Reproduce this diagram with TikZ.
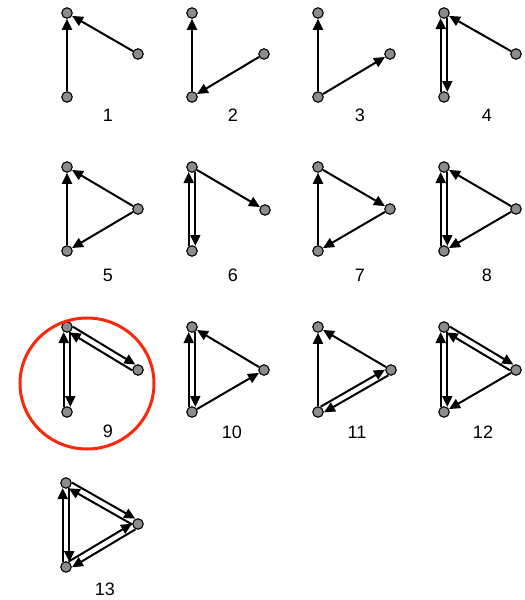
\documentclass[tikz,border=0pt]{standalone}
\usepackage{fontspec}
\setmainfont{Liberation Sans}
\usetikzlibrary{arrows.meta,calc}
\definecolor{vgray}{RGB}{140,140,140}
\definecolor{ring}{RGB}{250,40,10}
\tikzset{
  vtx/.style={circle,draw=black,fill=vgray,line width=1.1pt,minimum size=10.5pt,inner sep=0pt},
  edge/.style={line width=2pt,-{Triangle[length=11pt,width=10pt]}},
  dedge/.style={edge,shorten >=5pt,shorten <=5pt},
  lab/.style={font=\fontsize{18}{18}\selectfont,inner sep=0pt},
}
\newcommand\dbl[2]{%
  \draw[dedge] ($(#1)!3.3pt!90:(#2)$) -- ($(#2)!3.3pt!-90:(#1)$);
  \draw[dedge] ($(#2)!3.3pt!90:(#1)$) -- ($(#1)!3.3pt!-90:(#2)$);}
\begin{document}
\begin{tikzpicture}[x=1pt,y=-1pt]
\useasboundingbox (0,0) rectangle (525,600);
% row 1
\node[vtx] (t1) at (67,13) {}; \node[vtx] (b1) at (67,97) {}; \node[vtx] (r1) at (138,54) {};
\node[vtx] (t2) at (192,13) {}; \node[vtx] (b2) at (192,97) {}; \node[vtx] (r2) at (264,54) {};
\node[vtx] (t3) at (318,13) {}; \node[vtx] (b3) at (318,97) {}; \node[vtx] (r3) at (390,54) {};
\node[vtx] (t4) at (444,13) {}; \node[vtx] (b4) at (444,97) {}; \node[vtx] (r4) at (516,54) {};
% row 2
\node[vtx] (t5) at (67,167) {}; \node[vtx] (b5) at (67,251) {}; \node[vtx] (r5) at (138,209) {};
\node[vtx] (t6) at (192,167) {}; \node[vtx] (b6) at (192,251) {}; \node[vtx] (r6) at (265,210) {};
\node[vtx] (t7) at (318,167) {}; \node[vtx] (b7) at (318,251) {}; \node[vtx] (r7) at (390,209) {};
\node[vtx] (t8) at (444,167) {}; \node[vtx] (b8) at (444,251) {}; \node[vtx] (r8) at (516,209) {};
% row 3
\node[vtx] (t9) at (67,327) {}; \node[vtx] (b9) at (67,412) {}; \node[vtx] (r9) at (138,370) {};
\node[vtx] (t10) at (192,327) {}; \node[vtx] (b10) at (192,412) {}; \node[vtx] (r10) at (264,370) {};
\node[vtx] (t11) at (318,327) {}; \node[vtx] (b11) at (318,412) {}; \node[vtx] (r11) at (391,370) {};
\node[vtx] (t12) at (444,327) {}; \node[vtx] (b12) at (444,412) {}; \node[vtx] (r12) at (516,370) {};
% row 4
\node[vtx] (t13) at (66,483) {}; \node[vtx] (b13) at (66,567) {}; \node[vtx] (r13) at (138,524) {};
% labels
\node[lab] (l1) at (108,115) {1};
\node[lab] (l2) at (233,115) {2};
\node[lab] (l3) at (360,115) {3};
\node[lab] (l4) at (487,115) {4};
\node[lab] (l5) at (108,275) {5};
\node[lab] (l6) at (233,275) {6};
\node[lab] (l7) at (360,275) {7};
\node[lab] (l8) at (487,275) {8};
\node[lab] (l9) at (108,431) {9};
\node[lab] (l10) at (232,432) {10};
\node[lab] (l11) at (357,432) {11};
\node[lab] (l12) at (483,432) {12};
\node[lab] (l13) at (105,589) {13};
% edges
\draw[edge] (b1) -- (t1); \draw[edge] (r1) -- (t1);
\draw[edge] (b2) -- (t2); \draw[edge] (r2) -- (b2);
\draw[edge] (b3) -- (t3); \draw[edge] (b3) -- (r3);
\dbl{b4}{t4} \draw[edge] (r4) -- (t4);
\draw[edge] (b5) -- (t5); \draw[edge] (r5) -- (t5); \draw[edge] (r5) -- (b5);
\dbl{b6}{t6} \draw[edge] (t6) -- (r6);
\draw[edge] (b7) -- (t7); \draw[edge] (t7) -- (r7); \draw[edge] (r7) -- (b7);
\dbl{b8}{t8} \draw[edge] (r8) -- (t8); \draw[edge] (r8) -- (b8);
\dbl{b9}{t9} \dbl{t9}{r9}
\dbl{b10}{t10} \draw[edge] (r10) -- (t10); \draw[edge] (b10) -- (r10);
\draw[edge] (b11) -- (t11); \draw[edge] (r11) -- (t11); \dbl{b11}{r11}
\dbl{b12}{t12} \dbl{t12}{r12} \draw[edge] (r12) -- (b12);
\dbl{b13}{t13} \dbl{t13}{r13} \dbl{b13}{r13}
% highlight
\draw[ring,line width=3pt] (87,383.5) ellipse [x radius=67pt,y radius=65.5pt];
\end{tikzpicture}
\end{document}
